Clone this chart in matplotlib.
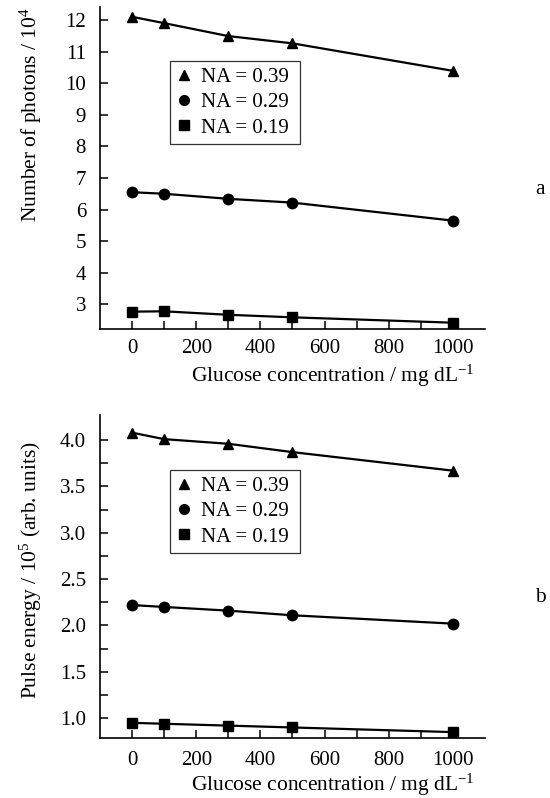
import matplotlib
matplotlib.use("Agg")
import matplotlib.pyplot as plt
from matplotlib.ticker import FixedLocator, FormatStrFormatter
from matplotlib.lines import Line2D

plt.rcParams['font.family'] = ['Liberation Serif', 'DejaVu Serif']
plt.rcParams['mathtext.fontset'] = 'custom'
plt.rcParams['mathtext.rm'] = 'Liberation Serif'
plt.rcParams['mathtext.it'] = 'Liberation Serif:italic'

glucose = [0, 100, 300, 500, 1000]
labels = ["NA = 0.39", "NA = 0.29", "NA = 0.19"]
markers = ["^", "o", "s"]

photons_039 = [12.10, 11.90, 11.49, 11.26, 10.39]
photons_029 = [6.55, 6.50, 6.34, 6.22, 5.65]
photons_019 = [2.77, 2.78, 2.67, 2.59, 2.42]

energy_039 = [4.08, 4.01, 3.96, 3.87, 3.67]
energy_029 = [2.22, 2.20, 2.16, 2.11, 2.02]
energy_019 = [0.95, 0.94, 0.92, 0.90, 0.85]

fig = plt.figure(figsize=(5.5, 7.98), dpi=100)
ax1 = fig.add_axes([0.1818, 0.5877, 0.70, 0.4035])
ax2 = fig.add_axes([0.1818, 0.0756, 0.70, 0.4043])

FS_TICK = 15
FS_LAB = 15.5
FS_LEG = 15

XLABEL = r"Glucose concentration $/$ mg dL$^{-1}$"


def style(ax, ymin, ymax, ymajor, yminor, xpad, xlab_y, ylab_y):
    for s in ['top', 'right']:
        ax.spines[s].set_visible(False)
    for s in ['left', 'bottom']:
        ax.spines[s].set_linewidth(1.2)
    ax.set_xlim(-100, 1100)
    ax.set_ylim(ymin, ymax)
    ax.xaxis.set_major_locator(FixedLocator([0, 200, 400, 600, 800, 1000]))
    ax.xaxis.set_minor_locator(FixedLocator([100, 300, 500, 700, 900]))
    ax.yaxis.set_major_locator(FixedLocator(ymajor))
    if yminor:
        ax.yaxis.set_minor_locator(FixedLocator(yminor))
    ax.tick_params(which='both', direction='in', length=6, width=1.1, labelsize=FS_TICK)
    ax.tick_params(axis='x', which='major', pad=xpad)
    ax.tick_params(axis='y', which='major', pad=10)
    ax.set_xlabel(XLABEL, fontsize=FS_LAB)
    ax.xaxis.set_label_coords(0.605, xlab_y)
    ax.yaxis.set_label_coords(-0.145, ylab_y)


series1 = [photons_039, photons_029, photons_019]
for ys, m, lab in zip(series1, markers, labels):
    ax1.plot(glucose, ys, color='black', lw=1.6, marker=m, ms=7.5, label=lab, clip_on=False)
ax1.set_ylabel(r"Number of photons $/$ 10$^4$", fontsize=FS_LAB)
style(ax1, 2.22, 12.41, list(range(3, 13)), None, 7, -0.104, 0.665)

series2 = [energy_039, energy_029, energy_019]
for ys, m, lab in zip(series2, markers, labels):
    ax2.plot(glucose, ys, color='black', lw=1.6, marker=m, ms=7.5, label=lab, clip_on=False)
ax2.set_ylabel(r"Pulse energy $/$ 10$^5$ (arb. units)", fontsize=FS_LAB)
style(ax2, 0.79, 4.27, [1.0, 1.5, 2.0, 2.5, 3.0, 3.5, 4.0],
      [1.25, 1.75, 2.25, 2.75, 3.25, 3.75], 9.5, -0.106, 0.52)
ax2.yaxis.set_major_formatter(FormatStrFormatter('%.1f'))

for ax, bbox in [(ax1, (170, 61, 130, 83)), (ax2, (170, 469, 130, 84))]:
    hs = [Line2D([], [], color='black', marker=m, ls='none', ms=7) for m in markers]
    x0, y0, w, h = bbox
    fx = x0 / 550
    fy = 1 - (y0 + h) / 798
    leg = ax.legend(hs, labels, loc='lower left',
                    bbox_to_anchor=(fx, fy, w / 550, h / 798),
                    bbox_transform=fig.transFigure, mode='expand',
                    fontsize=FS_LEG, frameon=True, fancybox=False, edgecolor='black',
                    handlelength=0.7, handletextpad=0.5, borderpad=0.3,
                    labelspacing=0.28, borderaxespad=0)
    leg.get_frame().set_linewidth(0.9)

fig.text(540 / 550, 1 - 190 / 798, "a", fontsize=FS_LAB, ha='center', va='center')
fig.text(540 / 550, 1 - 597 / 798, "b", fontsize=FS_LAB, ha='center', va='center')

fig.savefig("out.png", dpi=100)
